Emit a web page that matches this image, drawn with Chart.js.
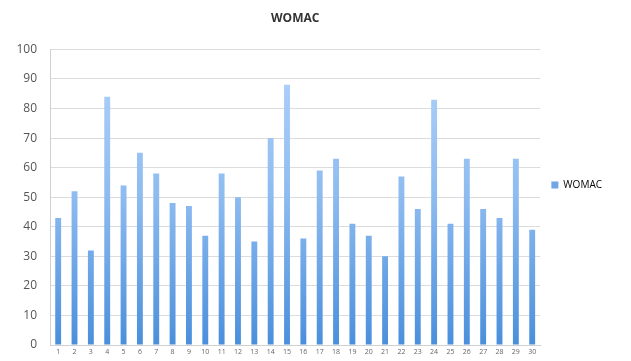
<!DOCTYPE html>
<html>
<head>
<meta charset="utf-8">
<script src="https://cdn.jsdelivr.net/npm/chart.js@4"></script>
<style>
html,body{margin:0;padding:0;background:#fff;}
#wrap{width:631px;height:361px;position:relative;}
</style>
</head>
<body>
<div id="wrap"><canvas id="c" width="631" height="361"></canvas></div>
<script>
const categories = ["1","2","3","4","5","6","7","8","9","10","11","12","13","14","15","16","17","18","19","20","21","22","23","24","25","26","27","28","29","30"];
const womacValues = [43,52,32,84,54,65,58,48,47,37,58,50,35,70,88,36,59,63,41,37,30,57,46,83,41,63,46,43,63,39];
const seriesName = "WOMAC";
const chartTitle = "WOMAC";

function barGradient(ctx){
  const chart = ctx.chart;
  const area = chart.chartArea;
  if(!area) return '#7fb0ea';
  const g = chart.ctx.createLinearGradient(0, area.top, 0, area.bottom);
  g.addColorStop(0, '#b3d3fb');
  g.addColorStop(0.5, '#8dbbf0');
  g.addColorStop(1, '#4a8fdc');
  return g;
}

new Chart(document.getElementById('c'), {
  type: 'bar',
  data: {
    labels: categories,
    datasets: [{
      label: seriesName,
      data: womacValues,
      backgroundColor: barGradient,
      borderWidth: 0,
      barPercentage: 0.4,
      categoryPercentage: 0.9
    }]
  },
  options: {
    responsive: false,
    animation: false,
    devicePixelRatio: 1,
    layout: { padding: { top: 9, left: 8, right: 19, bottom: 0 } },
    plugins: {
      title: {
        display: true,
        text: chartTitle,
        fullSize: false,
        color: '#333',
        font: { family: 'Open Sans', size: 12, weight: 'bold' },
        padding: { top: 2, bottom: 24 }
      },
      legend: {
        position: 'right',
        labels: {
          boxWidth: 7,
          boxHeight: 7,
          color: '#595959',
          font: { family: 'Open Sans', size: 10 },
          padding: 11,
          generateLabels: (chart) => [{
            text: seriesName,
            fillStyle: '#6fa6e6',
            strokeStyle: '#6fa6e6',
            lineWidth: 0,
            datasetIndex: 0
          }]
        }
      },
      tooltip: { enabled: false }
    },
    scales: {
      x: {
        grid: { display: false, drawTicks: false, tickLength: 0 },
        border: { color: '#d0d0d0' },
        ticks: { color: '#666', font: { family: 'Open Sans', size: 7 }, maxRotation: 0, autoSkip: false, padding: 3 },
        afterFit: (s) => { s.height = 9; }
      },
      y: {
        min: 0, max: 100,
        ticks: { stepSize: 10, color: '#555', font: { family: 'Open Sans', size: 12, lineHeight: 0.5 }, padding: 13 },
        grid: { color: '#dcdcdc', tickLength: 0 },
        border: { color: '#d0d0d0' },
        afterFit: (s) => { s.width = 42; }
      }
    }
  }
});
</script>
</body>
</html>
